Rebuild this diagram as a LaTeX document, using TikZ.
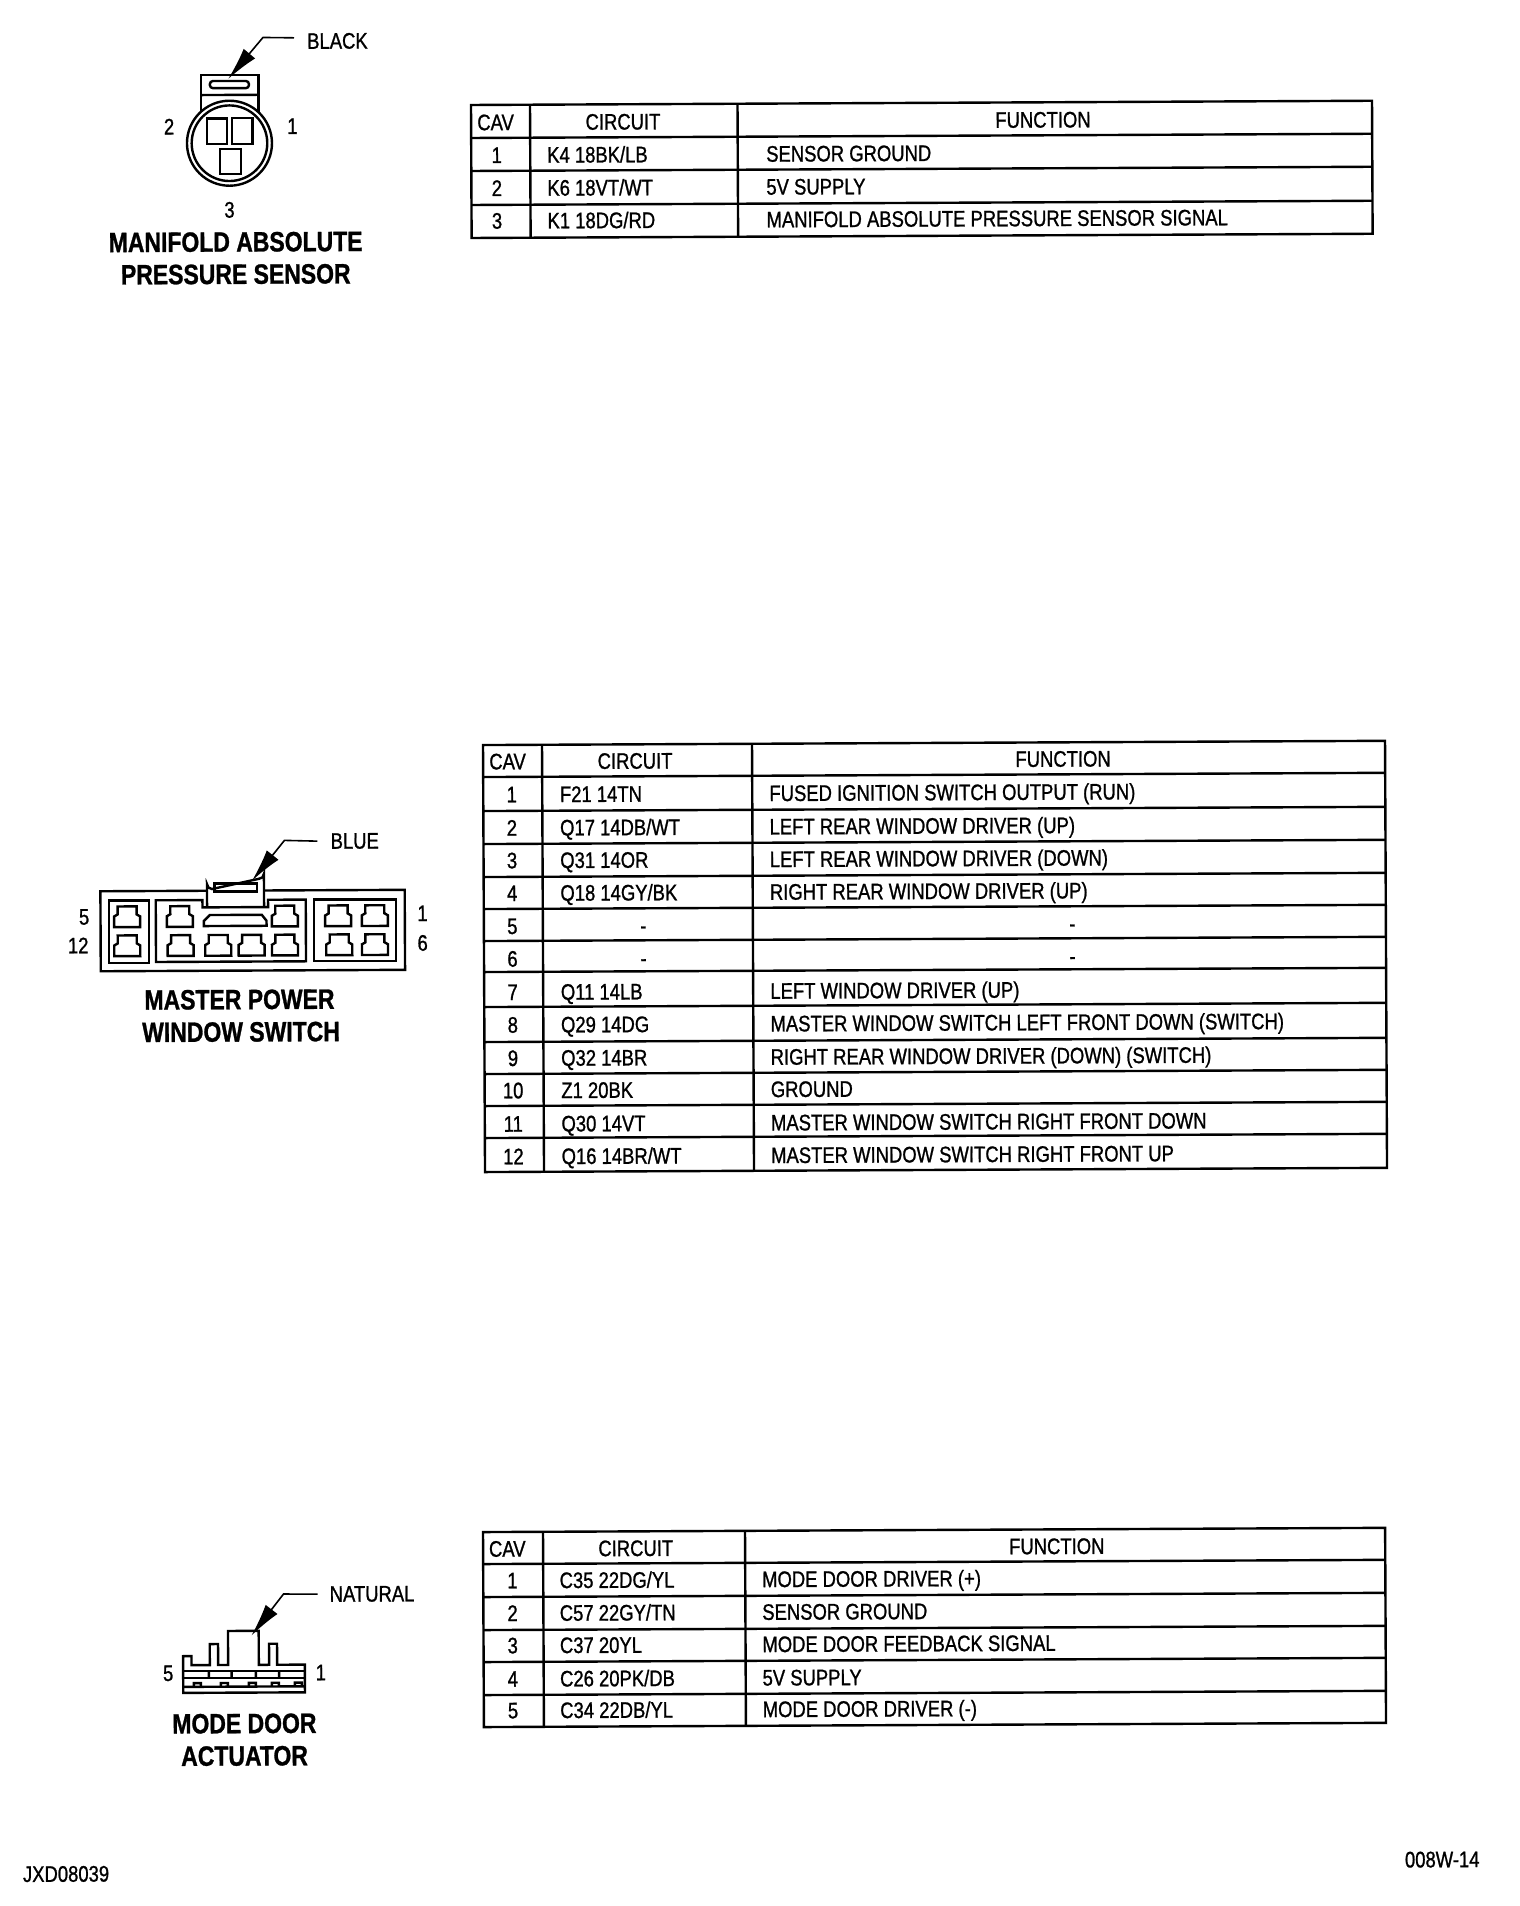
\documentclass[tikz,border=0pt]{standalone}
\usepackage{fontspec}
\setmainfont[FakeStretch=0.82,FakeBold=1]{Liberation Sans}
\usetikzlibrary{arrows.meta}
\tikzset{
    every node/.style={inner sep=0pt, rotate=0.27, font=\fontsize{22.5}{24}\selectfont},
    tablerule/.style={line width=2.4pt, black},
    partline/.style={line width=2.4pt, black, line join=miter},
    leader/.style={line width=1.6pt, -{Latex[length=33pt,width=15pt]}},
    basecell/.style={anchor=base},
    baseleft/.style={anchor=base west},
    title/.style={anchor=base, font=\fontsize{28}{30}\selectfont\bfseries},
}
\begin{document}
\begin{tikzpicture}[x={(1pt,0.0047pt)}, y={(0.0047pt,-1pt)}]
    \useasboundingbox (0pt,0pt) rectangle (1520pt,-1906pt);

    % manifold sensor table
    \draw[tablerule] (470.5,107.2) -- (1371.5,107.2) -- (1371.5,240.2) -- (470.5,240.2) -- cycle;
    \foreach \rowtop in {140.2,173.2,207.2}
        \draw[tablerule] (470.5,\rowtop) -- (1371.5,\rowtop);
    \draw[tablerule] (529.5,107.2) -- (529.5,240.2);
    \draw[tablerule] (737,107.2) -- (737,240.2);
    \node[basecell] (onecav) at (495,132.5) {CAV};
    \node[basecell] (onecircuit) at (622.4,132.5) {CIRCUIT};
    \node[basecell] (onefunction) at (1042.4,132.5) {FUNCTION};
    \foreach \base/\cav/\wire/\func in {
        165.3/1/{K4 18BK/LB}/{SENSOR GROUND},
        198.3/2/{K6 18VT/WT}/{5V SUPPLY},
        231/3/{K1 18DG/RD}/{MANIFOLD ABSOLUTE PRESSURE SENSOR SIGNAL}} {
        \node[basecell] (onecav\cav) at (496,\base) {\cav};
        \node[baseleft] (onewire\cav) at (546.3,\base) {\wire};
        \node[baseleft] (onefunc\cav) at (765.3,\base) {\func};
    }

    % window switch table
    \draw[tablerule] (479.5,747.3) -- (1381.5,747.3) -- (1381.5,1174.3) -- (479.5,1174.3) -- cycle;
    \foreach \rowtop in {779.3,813.3,846.3,879.3,911.3,943.3,974.3,1009.3,1044.3,1076.3,1108.3,1140.3}
        \draw[tablerule] (479.5,\rowtop) -- (1381.5,\rowtop);
    \draw[tablerule] (538.5,747.3) -- (538.5,1174.3);
    \draw[tablerule] (748.5,747.3) -- (748.5,1174.3);
    \node[basecell] (twocav) at (504,771.7) {CAV};
    \node[basecell] (twocircuit) at (631.5,771.7) {CIRCUIT};
    \node[basecell] (twofunction) at (1059.5,771.7) {FUNCTION};
    \foreach \base/\cav/\wire/\func in {
        804.7/1/{F21 14TN}/{FUSED IGNITION SWITCH OUTPUT (RUN)},
        838.1/2/{Q17 14DB/WT}/{LEFT REAR WINDOW DRIVER (UP)},
        870.7/3/{Q31 14OR}/{LEFT REAR WINDOW DRIVER (DOWN)},
        903.4/4/{Q18 14GY/BK}/{RIGHT REAR WINDOW DRIVER (UP)},
        1002.4/7/{Q11 14LB}/{LEFT WINDOW DRIVER (UP)},
        1035.1/8/{Q29 14DG}/{MASTER WINDOW SWITCH LEFT FRONT DOWN (SWITCH)},
        1068.4/9/{Q32 14BR}/{RIGHT REAR WINDOW DRIVER (DOWN) (SWITCH)},
        1100.7/10/{Z1 20BK}/{GROUND},
        1134.1/11/{Q30 14VT}/{MASTER WINDOW SWITCH RIGHT FRONT DOWN},
        1166.7/12/{Q16 14BR/WT}/{MASTER WINDOW SWITCH RIGHT FRONT UP}} {
        \node[basecell] (twocav\cav) at (508,\base) {\cav};
        \node[baseleft] (twowire\cav) at (556,\base) {\wire};
        \node[baseleft] (twofunc\cav) at (765.5,\base) {\func};
    }
    \foreach \base/\cav in {936.4/5, 969.1/6} {
        \node[basecell] (twocav\cav) at (508,\base) {\cav};
        \node[basecell] (twowire\cav) at (639,\base) {-};
        \node[basecell] (twofunc\cav) at (1068,\base) {-};
    }

    % mode door table
    \draw[tablerule] (475.8,1534.3) -- (1377.9,1534.3) -- (1377.9,1729.3) -- (475.8,1729.3) -- cycle;
    \foreach \rowtop in {1566.3,1599.3,1632.3,1664.3,1697.3}
        \draw[tablerule] (475.8,\rowtop) -- (1377.9,\rowtop);
    \draw[tablerule] (535.8,1534.3) -- (535.8,1729.3);
    \draw[tablerule] (737.8,1534.3) -- (737.8,1729.3);
    \node[basecell] (threecav) at (500,1559) {CAV};
    \node[basecell] (threecircuit) at (628.5,1559) {CIRCUIT};
    \node[basecell] (threefunction) at (1049.5,1559) {FUNCTION};
    \foreach \base/\cav/\wire/\func in {
        1590.7/1/{C35 22DG/YL}/{MODE DOOR DRIVER (+)},
        1623.4/2/{C57 22GY/TN}/{SENSOR GROUND},
        1655.7/3/{C37 20YL}/{MODE DOOR FEEDBACK SIGNAL},
        1689.1/4/{C26 20PK/DB}/{5V SUPPLY},
        1720.7/5/{C34 22DB/YL}/{MODE DOOR DRIVER (-)}} {
        \node[basecell] (threecav\cav) at (505,\base) {\cav};
        \node[baseleft] (threewire\cav) at (552,\base) {\wire};
        \node[baseleft] (threefunc\cav) at (754.5,\base) {\func};
    }

    % manifold sensor connector
    \begin{scope}[shift={(-0.5,1)}]
        \draw[partline] (201,75) rectangle (258.3,112);
        \draw[partline] (201,95) -- (258.3,95);
        \draw[partline, rounded corners=3pt] (210,81) rectangle (249,88.3);
        \draw[partline, fill=white] (229.3,143.3) circle (42.5);
        \draw[partline] (229.3,143.3) circle (37.8);
        \draw[partline] (206.7,118.3) rectangle (226.7,144);
        \draw[partline] (231.7,118.3) rectangle (252.3,144);
        \draw[partline] (220,149) rectangle (240.7,174);
        \coordinate (blackelbow) at (263.3,37.7);
        \coordinate (blacktip) at (228.3,79);
        \node[baseleft] (black) at (307.3,49.3) {BLACK};
        \draw[leader] ([xshift=-13pt,yshift=3.3pt]black.west) -- (blackelbow) -- (blacktip);
        \node[basecell] (msptwo) at (169,134.3) {2};
        \node[basecell] (mspone) at (292.3,134.3) {1};
        \node[basecell] (mspthree) at (229,217.7) {3};
        \node[title] (msptitle) at (235,251.7) {MANIFOLD ABSOLUTE};
        \node[title] (msptitleb) at (235,284) {PRESSURE SENSOR};
    \end{scope}

    % window switch connector
    \begin{scope}[shift={(-4.5,1)}]
        \draw[partline] (207.3,890.7) -- (100.7,890.7) -- (100.7,970.7) -- (405,970.7) -- (405,890.7) -- (264.3,890.7);
        \draw[partline] (207.3,907.3) -- (207.3,884) arc (180:90:5) -- (259.3,879) arc (90:0:5) -- (264.3,907.3);
        \draw[partline] (215,883.3) rectangle (257.3,891.7);
        \draw[partline] (109.3,900) rectangle (149,962.7);
        \draw[partline] (202.7,900) -- (156,900) -- (156,961.7) -- (306,961.7) -- (306,900) -- (268.3,900) -- (268.3,907.3) -- (202.7,907.3) -- cycle;
        \draw[partline] (314.3,900) rectangle (396,961.7);
        \foreach \tx/\ty in {127.3/906, 180/906, 285/906, 338.3/906, 375/906,
            127.3/935, 180.7/935, 218.3/935, 251.7/935, 285/935, 339.3/935, 375/935}
            \draw[partline] (\tx-9.5,\ty) -- (\tx+9.5,\ty) -- (\tx+9.5,\ty+8) -- (\tx+13,\ty+10) -- (\tx+13,\ty+20.7)
                -- (\tx-13,\ty+20.7) -- (\tx-13,\ty+10) -- (\tx-9.5,\ty+8) -- cycle;
        \draw[partline] (210,915) -- (262,915) -- (266.7,921) -- (266.7,926) -- (204,926) -- (204,921) -- cycle;
        \coordinate (blueelbow) at (285,840.7);
        \coordinate (bluetip) at (252.3,881);
        \node[baseleft] (blue) at (331,849.3) {BLUE};
        \draw[leader] ([xshift=-13pt,yshift=0pt]blue.west) -- (blueelbow) -- (bluetip);
        \node[basecell] (mpwfive) at (84.3,924) {5};
        \node[basecell] (mpwtwelve) at (78.3,952.7) {12};
        \node[basecell] (mpwone) at (422.7,922) {1};
        \node[basecell] (mpwsix) at (422.7,951.7) {6};
        \node[title] (mpwtitle) at (239.3,1009.3) {MASTER POWER};
        \node[title] (mpwtitleb) at (240.7,1041.7) {WINDOW SWITCH};
    \end{scope}

    % mode door connector
    \begin{scope}[shift={(-8,1)}]
        \draw[partline] (183.3,1692.7) -- (183.3,1656) -- (191.7,1656) -- (191.7,1665) -- (210,1665) -- (210,1644) -- (218.3,1644)
            -- (218.3,1665) -- (228.3,1665) -- (228.3,1631) -- (259,1631) -- (259,1665) -- (269.3,1665) -- (269.3,1644)
            -- (277.3,1644) -- (277.3,1665) -- (305,1665) -- (305,1692.7) -- cycle;
        \draw[partline] (183.3,1671) rectangle (305,1678.3);
        \draw[partline] (183.3,1686.7) -- (305,1686.7);
        \foreach \cellx in {209,231.7,256,279.3}
            \draw[partline] (\cellx,1671) -- (\cellx,1678.3);
        \foreach \toothx in {194,221,249,272,295}
            \draw[partline] (\toothx,1686.7) |- (\toothx+7,1683) -- (\toothx+7,1686.7);
        \coordinate (naturalelbow) at (284,1594.3);
        \coordinate (naturaltip) at (251.7,1635.7);
        \node[baseleft] (natural) at (330,1602.3) {NATURAL};
        \draw[leader] ([xshift=-12pt,yshift=0pt]natural.west) -- (naturalelbow) -- (naturaltip);
        \node[basecell] (mdafive) at (168.3,1680.7) {5};
        \node[basecell] (mdaone) at (321,1680.7) {1};
        \node[title] (mdatitle) at (244.3,1733.3) {MODE DOOR};
        \node[title] (mdatitleb) at (244.3,1765.7) {ACTUATOR};
    \end{scope}

    \node[baseleft] (drawingcode) at (14,1882) {JXD08039};
    \node[baseleft] (pagecode) at (1396,1874) {008W-14};
\end{tikzpicture}
\end{document}
